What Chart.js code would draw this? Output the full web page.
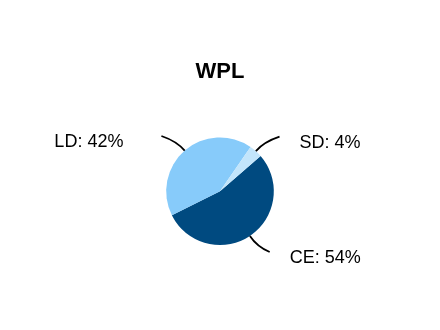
<!DOCTYPE html>
<html>
<head>
<meta charset="utf-8">
<script src="https://cdn.jsdelivr.net/npm/chart.js@4"></script>
<style>
  html, body { margin: 0; padding: 0; background: #fff; }
  #wrap { width: 440px; height: 330px; }
</style>
</head>
<body>
<div id="wrap"><canvas id="chart"></canvas></div>
<script>
const title = "WPL";
const categories = ["CE", "LD", "SD"];
const shares = [54, 42, 4];
const colors = ["#004A80", "#87CBFA", "#C2E5FB"];

// leader lines + outside labels
const leaderLabels = {
  id: "leaderLabels",
  afterDraw(chart) {
    const ctx = chart.ctx;
    const arcs = chart.getDatasetMeta(0).data;
    ctx.save();
    ctx.strokeStyle = "#000";
    ctx.lineWidth = 1.8;
    ctx.fillStyle = "#000";
    ctx.font = "18px 'Liberation Sans', Arial, sans-serif";
    ctx.textBaseline = "alphabetic";
    arcs.forEach((arc, i) => {
      const { x, y, startAngle, endAngle, outerRadius: r } = arc.getProps(["x", "y", "startAngle", "endAngle", "outerRadius"], true);
      const mid = (startAngle + endAngle) / 2;
      const dx = Math.cos(mid), dy = Math.sin(mid);
      const sx = x + dx * r, sy = y + dy * r;
      const ex = x + dx * 1.66 * r;
      const ey = y + dy * 1.36 * r;
      const cx = sx + (ex - sx) * 0.35, cy = ey + (sy - ey) * 0.35;
      ctx.beginPath();
      ctx.moveTo(ex, ey);
      ctx.quadraticCurveTo(cx, cy, sx, sy);
      ctx.stroke();
      const txt = `${categories[i]}: ${shares[i]}%`;
      if (dx < 0) {
        ctx.textAlign = "right";
        ctx.fillText(txt, ex - 38, ey + 11);
      } else {
        ctx.textAlign = "left";
        ctx.fillText(txt, ex + 20, ey + 11);
      }
    });
    ctx.restore();
  }
};

new Chart(document.getElementById("chart"), {
  type: "pie",
  data: {
    labels: categories,
    datasets: [{ data: shares, backgroundColor: colors, borderWidth: 0 }]
  },
  options: {
    responsive: true,
    maintainAspectRatio: false,
    animation: false,
    rotation: 49,
    layout: { padding: { top: 0, bottom: 85, left: 0, right: 0 } },
    plugins: {
      legend: { display: false },
      tooltip: { enabled: false },
      title: {
        display: true,
        text: title,
        color: "#000",
        font: { family: "'Liberation Sans', Arial, sans-serif", size: 22, weight: "bold" },
        padding: { top: 59, bottom: 52 }
      }
    }
  },
  plugins: [leaderLabels]
});
</script>
</body>
</html>
